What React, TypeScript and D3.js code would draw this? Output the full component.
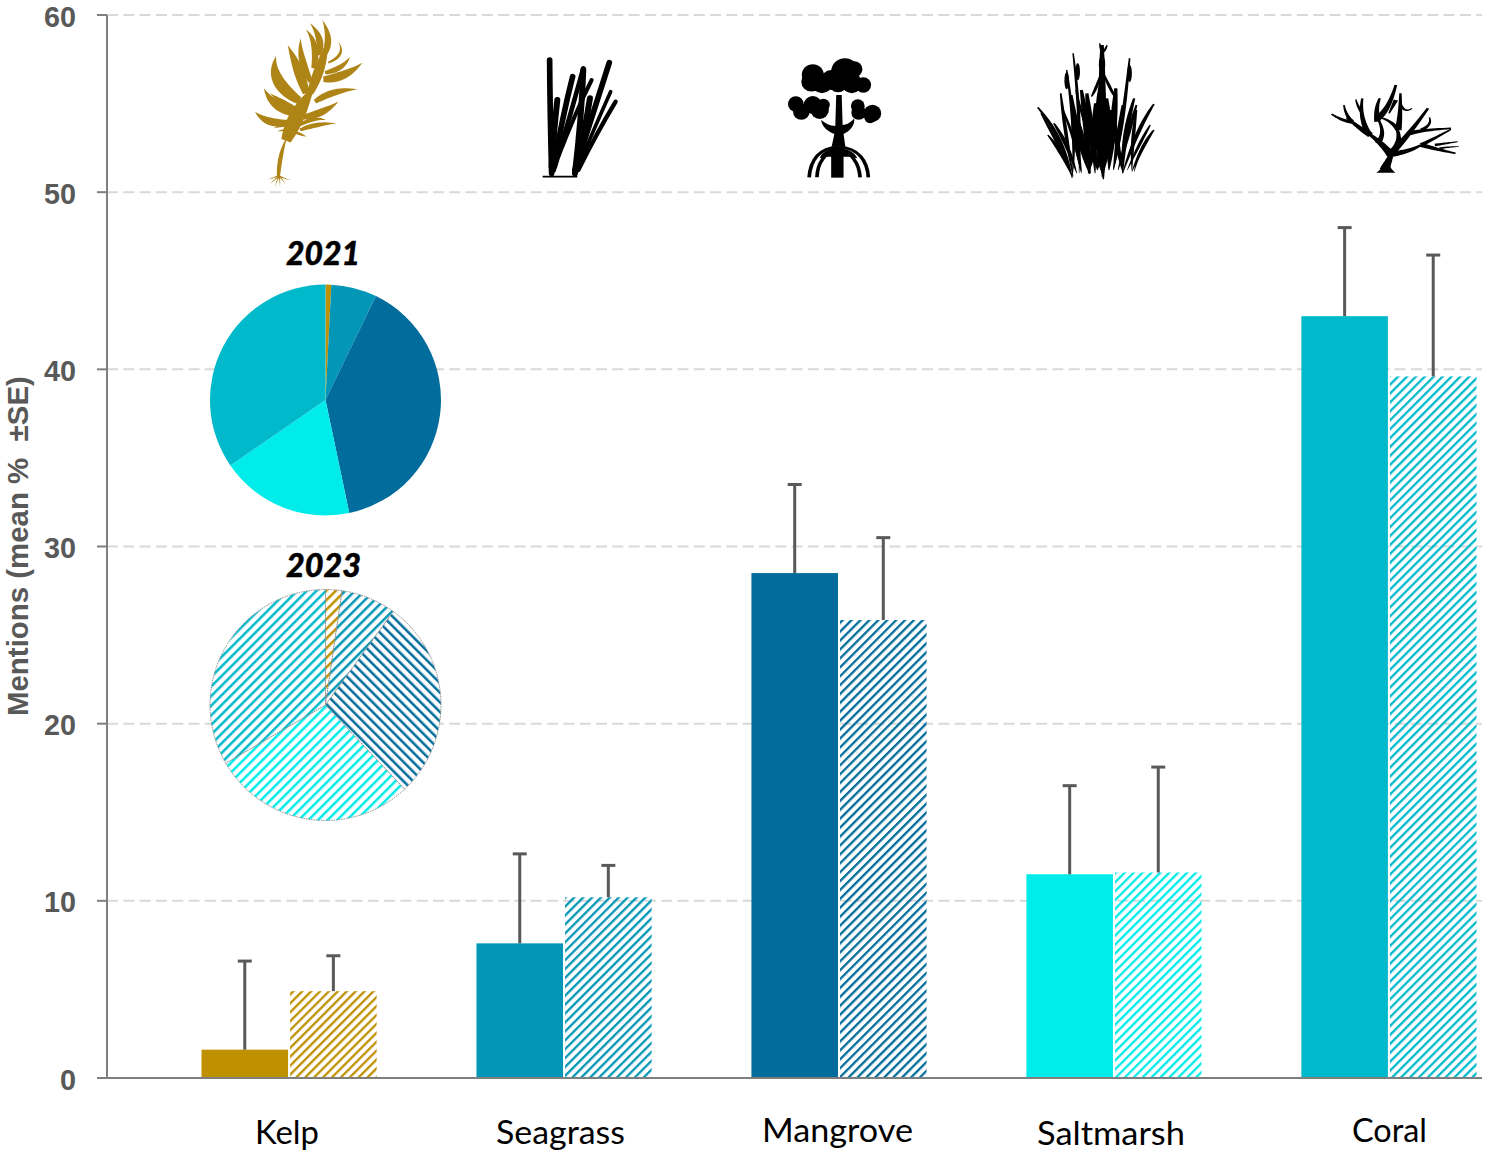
import React from 'react';
import * as d3 from 'd3';

const categories = ['Kelp', 'Seagrass', 'Mangrove', 'Saltmarsh', 'Coral'];
const years = ['2021', '2023'];
const colors = ['#bf9000', '#0396b6', '#026d9c', '#00ecea', '#00b9cb'];
const means2021 = [1.6, 7.6, 28.5, 11.5, 43.0];
const means2023 = [4.9, 10.2, 25.85, 11.6, 39.6];
const upper2021 = [6.6, 12.65, 33.5, 16.5, 48.0];
const upper2023 = [6.9, 12.0, 30.5, 17.55, 46.45];
const pie2021 = [0.8, 6.4, 39.5, 18.7, 34.6];
const pie2023 = [2.3, 7.7, 28.0, 28.6, 33.4];
const yTicks = [0, 10, 20, 30, 40, 50, 60];
const labelBox = [[255, 64, 1144], [496, 129, 1144], [762, 151, 1142], [1037, 148, 1145], [1352, 75, 1142]];

type B = number[];
const FONT = 'Lato, "Open Sans", sans-serif';
const AXIS_FONT = '"Liberation Sans"';

function measure(txt: string, font: string) {
  const ctx = document.createElement('canvas').getContext('2d')!;
  ctx.font = font;
  return ctx.measureText(txt).width || 1;
}

function FitText({ x, y, w, txt, size, weight = 400, italic = false, fill, rotate = 0, bold = 0, family = 'Lato' }:
  { x: number; y: number; w: number; txt: string; size: number; weight?: number; italic?: boolean; fill: string; rotate?: number; bold?: number; family?: string }) {
  const nat = measure(txt, `${italic ? 'italic ' : ''}${weight} ${size}px ${family}`);
  const sx = w / nat;
  return (
    <text transform={`translate(${x},${y}) rotate(${rotate}) scale(${sx.toFixed(4)},1)`} fontFamily={family} fontSize={size} fontWeight={weight}
      fontStyle={italic ? 'italic' : 'normal'} fill={fill} stroke={bold ? fill : 'none'} strokeWidth={bold}
      style={{ whiteSpace: 'pre' }}>{txt}</text>
  );
}

function blade([x0, y0, cx, cy, x1, y1, w]: B, mode: 'tip' | 'leaf' | 'spindle' | 'limb' = 'tip') {
  const left: string[] = [], right: string[] = [];
  const n = 14;
  for (let i = 0; i <= n; i++) {
    const t = i / n;
    const x = (1 - t) * (1 - t) * x0 + 2 * t * (1 - t) * cx + t * t * x1;
    const y = (1 - t) * (1 - t) * y0 + 2 * t * (1 - t) * cy + t * t * y1;
    let dx = 2 * (1 - t) * (cx - x0) + 2 * t * (x1 - cx);
    let dy = 2 * (1 - t) * (cy - y0) + 2 * t * (y1 - cy);
    const l = Math.hypot(dx, dy) || 1;
    dx /= l; dy /= l;
    const k = mode === 'tip' ? 1 - t
      : mode === 'leaf' ? Math.sin(Math.PI * (0.22 + 0.78 * t))
      : mode === 'spindle' ? Math.pow(Math.sin(Math.PI * Math.min(1, t * 0.85 + 0.03)), 0.8)
      : 1 - 0.65 * t;
    const h = (w / 2) * k;
    left.push(`${(x - dy * h).toFixed(1)},${(y + dx * h).toFixed(1)}`);
    right.unshift(`${(x + dy * h).toFixed(1)},${(y - dx * h).toFixed(1)}`);
  }
  return `M${left.join('L')}L${right.join('L')}Z`;
}

const kelpLeaves: B[] = [
  [372,135,398,90,367,30,20],[355,135,372,85,330,40,21],[340,175,358,105,318,58,20],[332,215,296,145,302,85,21],
  [318,250,296,175,263,105,30],[298,272,205,215,228,138,36],[285,312,215,290,192,235,26],[290,298,245,278,210,250,16],
  [265,338,200,345,165,305,24],[270,345,245,345,220,355,8],[270,360,250,360,232,364,6],[300,360,350,340,410,340,14],
  [300,345,340,320,378,330,12],[310,322,370,312,415,275,22],[345,275,400,238,472,238,20],[370,208,435,205,487,158,26],
  [375,188,430,178,450,140,16],[385,158,440,135,415,95,9],[280,365,300,372,320,380,8],
];
const kelpStem: B[] = [[235,505,238,430,262,380,13],[258,392,290,310,345,225,46],[330,250,365,170,385,85,30]];
const kelpRoots: B[] = [
  [236,497,220,505,200,508,5],[236,497,255,507,272,510,5],[236,500,222,510,210,522,4],[236,500,230,515,224,532,4],
  [238,500,240,515,240,532,4],[238,500,250,510,256,525,4],
];
const seagrassBlades: B[] = [
  [1055,490,1050,300,1049,150,17],[1060,480,1085,330,1118,200,17],[1055,470,1062,360,1072,270,18],[1065,470,1110,320,1150,175,14],
  [1075,440,1125,310,1175,210,12],[1125,490,1145,320,1150,180,18],[1130,470,1155,360,1170,265,18],[1125,480,1180,310,1228,158,17],
  [1130,480,1185,350,1232,245,11],[1135,480,1190,370,1247,275,13],
];
const mangroveCloud = [
  [115,135,24],[112,155,22],[135,160,22],[155,150,22],[185,125,30],[170,160,20],[200,160,22],[225,165,17],[205,118,18],
  [78,222,17],[90,245,18],[115,225,20],[130,240,20],[138,225,14],[213,228,15],[215,248,16],[245,250,19],[240,262,13],
];
const mangroveRoots = [
  'M170,352C130,352 110,390 107,442','M170,358C140,368 125,400 124,442','M172,352C215,352 234,395 236,442','M172,358C200,368 216,400 218,442',
];
const marshBlades: B[] = [
  [680,445,660,320,605,232,9],[680,440,660,370,627,315,8],[690,430,670,340,640,280,9],[682,440,665,310,655,190,8],
  [680,440,690,320,668,120,7],[695,430,700,270,682,70,7],[718,432,690,320,678,195,12],[718,432,715,310,700,180,14],
  [735,420,720,310,712,190,15],[748,448,745,300,745,45,17],[748,445,730,300,742,160,15],[760,420,770,300,775,175,15],
  [770,415,790,300,805,85,8],[790,430,790,320,815,205,11],[790,430,820,300,858,222,9],[810,425,835,340,858,300,8],
  [810,420,810,330,820,240,8],[760,415,760,300,755,205,15],[715,430,735,320,745,240,14],[745,440,760,330,765,240,14],
  [700,425,690,350,680,270,10],[790,425,775,330,770,250,11],[735,420,745,350,735,260,12],[748,440,700,260,688,180,6],
  [745,120,735,170,722,200,7],[745,120,760,170,775,205,7],[745,70,742,55,740,40,5],[747,70,752,60,756,45,5],
  [675,420,650,340,612,250,7],[800,420,830,330,850,285,7],[720,430,705,330,690,260,10],[780,420,800,320,820,225,9],
  [730,430,725,330,730,220,11],[770,420,780,330,790,225,10],[700,430,690,340,660,240,7],[815,425,825,360,855,305,6],
];
const marshHeads = [[668,152,5,26],[692,125,5,26],[745,103,7,26],[805,130,5,26]];
const coralLimbs: B[] = [
  [1360,420,1370,390,1378,365,22],[1375,375,1355,340,1325,310,20],[1330,315,1305,295,1278,262,16],[1290,275,1270,275,1245,252,12],
  [1290,275,1275,255,1272,225,10],[1325,310,1305,260,1312,205,14],[1310,245,1300,225,1298,208,8],[1345,340,1365,310,1345,265,13],
  [1345,275,1340,235,1350,205,14],[1345,265,1370,240,1385,165,17],[1378,365,1400,330,1385,290,16],[1390,300,1395,260,1395,190,15],
  [1390,300,1375,270,1348,262,11],[1378,365,1410,320,1455,235,17],[1415,310,1440,300,1505,295,13],[1440,300,1465,285,1458,262,9],
  [1378,372,1415,365,1440,345,17],[1440,345,1470,325,1505,298,11],[1440,345,1480,360,1515,370,13],[1470,345,1495,340,1520,335,8],
  [1395,225,1405,250,1420,235,8],[1480,355,1505,350,1522,350,6],[1385,210,1378,230,1370,250,10],
];

const y = d3.scaleLinear().domain([0, 60]).range([1078, 15]);
const xBand = d3.scaleBand().domain(categories).range([201.5, 1476.5]).paddingInner(0.363);
const xYear = d3.scaleBand().domain(years).range([0, xBand.bandwidth()]).paddingInner(0.023);
const pieGen = d3.pie<number>().sort(null);
const pieR = 115.5;
const arc = d3.arc<d3.PieArcDatum<number>>().innerRadius(0).outerRadius(pieR);

function Hatch({ id, color, reverse = false, bg, P = 6.3, S = 2.3 }: { id: string; color: string; reverse?: boolean; bg?: string; P?: number; S?: number }) {
  return (
    <pattern id={id} width={P} height={P} patternUnits="userSpaceOnUse" patternTransform={`rotate(${reverse ? -45 : 45})`}>
      {bg && <rect width={P} height={P} fill={bg} />}
      <rect x={0} y={0} width={S} height={P} fill={color} />
    </pattern>
  );
}

export default function App() {
  const pies2021 = pieGen(pie2021);
  const pies2023 = pieGen(pie2023);
  return (
    <svg width={1488} height={1152} style={{ position: 'absolute', left: 0, top: 0, display: 'block' }} fontFamily={FONT}>
      <defs>
        {colors.map((c, i) => <Hatch key={c} id={`bar${i}`} color={c} />)}
        {colors.map((c, i) => <Hatch key={c} id={`pie${i}`} color={c} bg="#fff" reverse={i === 2} P={6.8} S={2.5} />)}
      </defs>
      <rect width={1488} height={1152} fill="#fff" />

      {yTicks.filter(t => t > 0).map(t => (
        <line key={t} x1={107} x2={1482} y1={y(t)} y2={y(t)} stroke="#d9d9d9" strokeWidth={2} strokeDasharray="11 5.3" />
      ))}

      {categories.map((c, i) => {
        const x0 = xBand(c)!;
        const w = xYear.bandwidth();
        const series = [
          { yr: '2021', v: means2021[i], u: upper2021[i], fill: colors[i] },
          { yr: '2023', v: means2023[i], u: upper2023[i], fill: `url(#bar${i})` },
        ];
        return (
          <g key={c}>
            {series.map(s => {
              const x = x0 + xYear(s.yr)!;
              const cx = x + w / 2;
              return (
                <g key={s.yr}>
                  <rect x={x} y={y(s.v)} width={w} height={y(0) - y(s.v)} fill={s.fill} />
                  <line x1={cx} x2={cx} y1={y(s.v)} y2={y(s.u)} stroke="#595959" strokeWidth={3} />
                  <line x1={cx - 7} x2={cx + 7} y1={y(s.u)} y2={y(s.u)} stroke="#595959" strokeWidth={3} />
                </g>
              );
            })}
          </g>
        );
      })}

      <line x1={107} x2={107} y1={y(60)} y2={y(0)} stroke="#7f7f7f" strokeWidth={2} />
      <line x1={97} x2={1482} y1={y(0)} y2={y(0)} stroke="#7f7f7f" strokeWidth={2} />
      {yTicks.map(t => {
        const w = t === 0 ? 16 : 32;
        return (
          <g key={t}>
            <line x1={97} x2={107} y1={y(t)} y2={y(t)} stroke="#7f7f7f" strokeWidth={2} />
            <FitText x={76 - w} y={y(t) + 11.5} w={w} txt={String(t)} size={29} weight={700} fill="#595959" family={AXIS_FONT} />
          </g>
        );
      })}

      <FitText x={27.5} y={716} w={340} txt={'Mentions (mean %  ±SE)'} size={30} weight={700} fill="#595959" rotate={-90} family={AXIS_FONT} />

      {categories.map((c, i) => (
        <FitText key={c} x={labelBox[i][0]} y={labelBox[i][2]} w={labelBox[i][1]} txt={c} size={32} fill="#000" />
      ))}

      <FitText x={286} y={265} w={74} txt="2021" size={32} weight={900} italic fill="#000" bold={0.5} />
      <g transform="translate(325.5,400)">
        {pies2021.map((d, i) => <path key={i} d={arc(d)!} fill={colors[i]} />)}
      </g>
      <FitText x={286} y={577} w={75} txt="2023" size={32} weight={900} italic fill="#000" bold={0.5} />
      <g transform="translate(325.5,705)">
        {pies2023.map((d, i) => (
          <path key={i} d={arc(d)!} fill={`url(#pie${i})`} stroke="#8a8a8a" strokeWidth={1} strokeDasharray="1.5 1" />
        ))}
      </g>

      {/* kelp illustration */}
      <g transform="translate(200,10) scale(0.3333)" fill="#ae8416">
        {kelpRoots.map((b, i) => <path key={i} d={blade(b)} />)}
        {kelpLeaves.map((b, i) => <path key={i} d={blade(b, 'leaf')} />)}
        {kelpStem.map((b, i) => <path key={i} d={blade(b, 'leaf')} />)}
      </g>
      {/* seagrass illustration */}
      <g transform="translate(200,10) scale(0.3333)" fill="none" stroke="#000" strokeLinecap="round">
        {seagrassBlades.map((b, i) => (
          <path key={i} d={`M${b[0]},${b[1]}Q${b[2]},${b[3]} ${b[4]},${b[5]}`} strokeWidth={b[6]} />
        ))}
        <path d="M1028,500H1132" strokeWidth={5} strokeLinecap="butt" />
      </g>
      {/* mangrove, saltmarsh and coral illustrations */}
      <g transform="translate(760,30) scale(0.4591,0.3333)" fill="#000">
        {mangroveCloud.map((c, i) => <ellipse key={i} cx={c[0]} cy={c[1]} rx={c[2]} ry={c[2] * 1.35} />)}
        <path d="M166,195H178L180,285C190,285 200,275 205,265C208,285 195,305 182,312L186,350H156L162,312C148,305 135,290 133,270C142,280 152,287 164,288Z" />
        <path d="M155,350H182V443H155Z" />
        <path d="M130,385C140,345 200,345 212,385L195,380H147Z" />
        <g fill="none" stroke="#000" strokeWidth={8}>
          {mangroveRoots.map((d, i) => <path key={i} d={d} />)}
        </g>
        {marshBlades.map((b, i) => <path key={i} d={blade(b, 'spindle')} />)}
        {marshHeads.map((h, i) => <ellipse key={i} cx={h[0]} cy={h[1]} rx={h[2]} ry={h[3]} />)}
        {coralLimbs.map((b, i) => <path key={i} d={blade(b, 'limb')} />)}
        <path d="M1342,428C1352,420 1356,410 1358,398H1370C1372,410 1376,420 1384,428Z" />
      </g>
    </svg>
  );
}
